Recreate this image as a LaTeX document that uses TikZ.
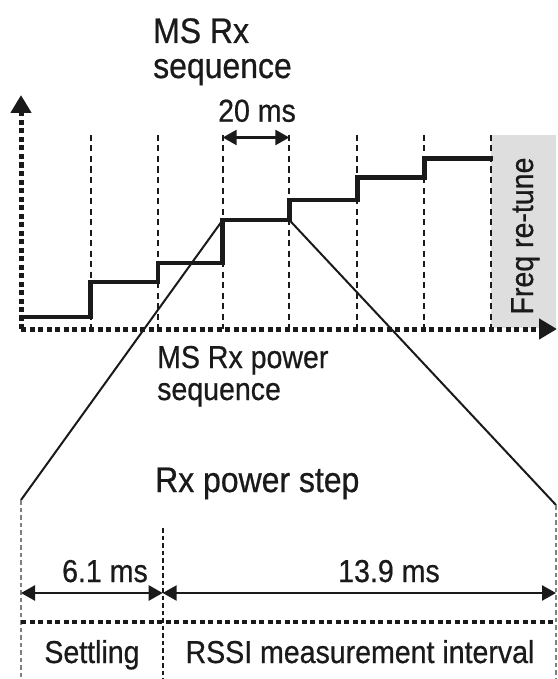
\documentclass[tikz,border=0pt]{standalone}
\usepackage{fontspec}
\setmainfont{Liberation Sans}[FakeStretch=0.9, FakeBold=0.6]
\usetikzlibrary{arrows.meta}
\definecolor{ink}{HTML}{1A1A1A}
\definecolor{retunegray}{HTML}{DEDEDE}
\begin{document}
\begin{tikzpicture}[x=1pt,y=-1pt,
  axis/.style={ink, line width=5pt, dash pattern=on 5pt off 3.5pt, -{Triangle[length=18pt,width=20pt]}},
  gridline/.style={ink, line width=2.3pt, dash pattern=on 6pt off 4.5pt},
  stair/.style={ink, line width=4.6pt, line join=miter, line cap=rect},
  zoomline/.style={ink, line width=2pt},
  guide/.style={line width=1.8pt, dash pattern=on 4.5pt off 3pt},
  dim/.style={ink, line width=2.5pt, {Triangle[length=14pt,width=15pt]}-{Triangle[length=14pt,width=15pt]}},
  sepline/.style={ink, line width=4.2pt, dash pattern=on 5pt off 3.5pt},
  normal/.style={ink, font=\fontsize{31.7}{36}\selectfont, inner sep=0pt},
  big/.style={ink, font=\fontsize{35.5}{40}\selectfont, inner sep=0pt},
]
\useasboundingbox (0,0) rectangle (557,679);

% shaded re-tune area
\fill[retunegray] (490.7,135) rectangle (556,328);
\node[normal, rotate=90, anchor=base] (retune) at (533,236) {Freq re-tune};

% grid
\foreach \i/\x in {1/90.7,2/158,3/222.7,4/289.3,5/357.3,6/424.3,7/490.7}{
  \coordinate (gt\i) at (\x,135);
  \coordinate (gb\i) at (\x,329);
  \draw[gridline] (gt\i) -- (gb\i);
}

% axes
\coordinate (O) at (21,329);
\coordinate (ytop) at (21,95);
\coordinate (xend) at (557,329);
\draw[axis] (O) -- (ytop);
\draw[axis] (O) -- (xend);

% staircase
\coordinate (s4) at (222.7,220);
\coordinate (s5) at (289.3,220);
\draw[stair] (21,317) -- (90.7,317) -- (90.7,282) -- (158,282) -- (158,263)
  -- (222.7,263) -- (s4) -- (s5) -- (289.3,200) -- (357.3,200) -- (357.3,177.3)
  -- (424.3,177.3) -- (424.3,158.3) -- (490.7,158.3);

% 20 ms
\coordinate (a20l) at (222.7,137.5);
\coordinate (a20r) at (289.3,137.5);
\draw[dim] (a20l) -- (a20r);
\node[normal, anchor=base] (t20) at (257,121.7) {20 ms};

% titles
\node[big, anchor=base west] (title1) at (153,43) {MS Rx};
\node[big, anchor=base west] (title2) at (153,78) {sequence};
\node[normal, anchor=base west] (pw1) at (157,368) {MS Rx power};
\node[normal, anchor=base west] (pw2) at (157,400) {sequence};
\node[big, anchor=base west] (step) at (155,492) {Rx power step};

% zoom lines
\coordinate (bl) at (21,500);
\coordinate (br) at (556,505);
\draw[zoomline] (s4) -- (bl);
\draw[zoomline] (s5) -- (br);

% lower guides
\coordinate (bl2) at (21,679);
\coordinate (br2) at (556,679);
\coordinate (mt) at (162.7,528);
\coordinate (mb) at (162.7,679);
\draw[guide, gray] (bl) -- (bl2);
\draw[guide, gray] (br) -- (br2);
\draw[guide, ink] (mt) -- (mb);

% dimension arrows
\coordinate (d1) at (21,593);
\coordinate (d2) at (162.7,593);
\coordinate (d3) at (556,593);
\draw[dim] (d1) -- (d2);
\draw[dim] (d2) -- (d3);
\node[normal, anchor=base] (t61) at (105,582) {6.1 ms};
\node[normal, anchor=base] (t139) at (389,582) {13.9 ms};

% separator
\coordinate (h1) at (21,622);
\coordinate (h2) at (556,622);
\draw[sepline] (h1) -- (h2);

\node[normal, anchor=base] (settle) at (92,663) {Settling};
\node[normal, anchor=base] (rssi) at (360,663) {RSSI measurement interval};
\end{tikzpicture}
\end{document}
